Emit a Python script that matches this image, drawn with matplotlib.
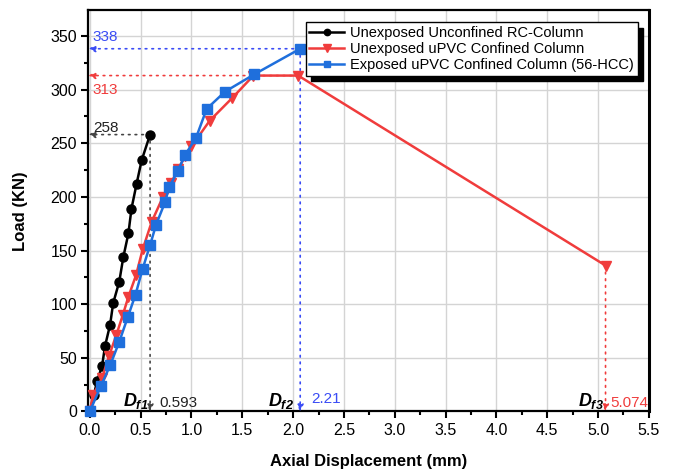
import matplotlib
matplotlib.use('Agg')
import matplotlib.pyplot as plt
from matplotlib.ticker import MultipleLocator

plt.rcParams['font.family'] = ['Liberation Sans', 'DejaVu Sans']
plt.rcParams['mathtext.fontset'] = 'custom'
plt.rcParams['mathtext.it'] = 'Liberation Sans:italic:bold'
plt.rcParams['mathtext.rm'] = 'Liberation Sans:italic:bold'
plt.rcParams['mathtext.bf'] = 'Liberation Sans:italic:bold'

# =Data
rc_x = [0, 0.04, 0.07, 0.12, 0.15, 0.2, 0.23, 0.29, 0.33, 0.38, 0.41, 0.46, 0.51, 0.593]
rc_y = [0, 15, 28, 42, 61, 81, 101, 121, 144, 166, 189, 212, 234, 258]

upvc_x = [0, 0.03, 0.12, 0.19, 0.26, 0.325, 0.38, 0.455, 0.52, 0.61, 0.72,
          0.80, 0.87, 0.94, 1.0, 1.18, 1.40, 1.61, 2.05, 5.074]
upvc_y = [0, 15, 31, 52, 71, 90, 107, 127, 151, 177, 200,
          213, 226, 238, 247, 271, 292, 313, 313, 136]

exp_x = [0, 0.108, 0.2, 0.29, 0.374, 0.45, 0.52, 0.593, 0.652, 0.74, 0.78,
         0.865, 0.937, 1.045, 1.15, 1.33, 1.615, 2.07]
exp_y = [0, 23.5, 43, 65, 88, 109, 133, 155, 174, 195, 209,
         224, 239, 255, 282, 298, 314, 338]

labels = ['Unexposed Unconfined RC-Column',
          'Unexposed uPVC Confined Column',
          'Exposed uPVC Confined Column (56-HCC)']
c_black = 'black'
c_red = '#F03C3C'
c_blue = '#1F6FDC'
c_blue_txt = '#3A4CF5'

fig = plt.figure(figsize=(6.77, 4.70), dpi=100)
ax = fig.add_axes([0.1304, 0.1245, 0.828, 0.854])

ax.plot(rc_x, rc_y, '-o', color=c_black, lw=1.8, ms=6.5, label=labels[0], clip_on=False, zorder=5)
ax.plot(upvc_x, upvc_y, '-v', color=c_red, lw=1.8, ms=7.5, label=labels[1], clip_on=False, zorder=6)
ax.plot(exp_x, exp_y, '-s', color=c_blue, lw=1.8, ms=6.5, label=labels[2], clip_on=False, zorder=7)

ax.set_xlim(-0.015, 5.5)
ax.set_ylim(0, 374)
ax.xaxis.set_major_locator(MultipleLocator(0.5))
ax.xaxis.set_minor_locator(MultipleLocator(0.25))
ax.yaxis.set_major_locator(MultipleLocator(50))
ax.yaxis.set_minor_locator(MultipleLocator(25))
ax.set_xticks([i * 0.5 for i in range(12)])
ax.xaxis.set_major_formatter(matplotlib.ticker.FormatStrFormatter('%.1f'))
ax.grid(True, which='major', color='#d4d4d4', lw=1.0, zorder=0)
ax.set_axisbelow(True)
ax.tick_params(which='major', direction='out', length=5, width=1.5, labelsize=11.5, pad=3)
ax.tick_params(which='minor', direction='out', length=3, width=1.5)
for s in ax.spines.values():
    s.set_linewidth(1.6)
ax.spines['right'].set_linewidth(2.2)

ax.set_xlabel('Axial Displacement (mm)', fontsize=12, fontweight='bold', labelpad=12)
ax.set_ylabel('Load (KN)', fontsize=12, fontweight='bold', labelpad=16)

# peak guide lines
dots = (0, (1, 3))

def guide(xp, yp, col):
    arr = dict(arrowstyle='-|>', ls=dots, color=col, lw=1.2, mutation_scale=10,
               shrinkA=0, shrinkB=0)
    ax.annotate('', xy=(-0.015, yp), xytext=(xp, yp), arrowprops=arr, zorder=3,
                annotation_clip=False)
    ax.annotate('', xy=(xp, 0), xytext=(xp, yp), arrowprops=arr, zorder=3,
                annotation_clip=False)

i_rc = rc_y.index(max(rc_y))
i_ex = exp_y.index(max(exp_y))
guide(rc_x[i_rc], rc_y[i_rc], '#444444')
guide(exp_x[i_ex], exp_y[i_ex], c_blue_txt)
arr_r = dict(arrowstyle='-|>', ls=dots, color=c_red, lw=1.2, mutation_scale=10, shrinkA=0, shrinkB=0)
ax.annotate('', xy=(-0.015, upvc_y[-2]), xytext=(upvc_x[-2], upvc_y[-2]), arrowprops=arr_r, zorder=3,
            annotation_clip=False)
ax.annotate('', xy=(upvc_x[-1], 0), xytext=(upvc_x[-1], upvc_y[-1]), arrowprops=arr_r, zorder=3,
            annotation_clip=False)

ax.text(0.03, 264, '258', color='#222222', fontsize=11, va='center')
ax.text(0.03, 349, '338', color=c_blue_txt, fontsize=11, va='center')
ax.text(0.03, 300, '313', color=c_red, fontsize=11, va='center')

ax.text(0.33, 10, r'$D_{f1}$', fontsize=13, va='center')
ax.text(0.68, 8, '0.593', color='#222222', fontsize=11, va='center')
ax.text(1.75, 10, r'$D_{f2}$', fontsize=13, va='center')
ax.text(2.18, 12, '2.21', color=c_blue_txt, fontsize=11, va='center')
ax.text(4.8, 10, r'$D_{f3}$', fontsize=13, va='center')
ax.text(5.12, 8, '5.074', color=c_red, fontsize=11, va='center')

leg = ax.legend(loc='upper right', bbox_to_anchor=(0.98, 0.97), borderaxespad=0,
                fontsize=10.5, fancybox=False, framealpha=1, edgecolor='black',
                handlelength=2.4, handletextpad=0.4, borderpad=0.25, labelspacing=0.15,
                markerscale=0.7,
                shadow={'color': 'black', 'alpha': 1, 'ox': 4, 'oy': -4})
leg.get_frame().set_linewidth(1.0)
leg.set_zorder(10)

fig.savefig('out.png', dpi=100)
